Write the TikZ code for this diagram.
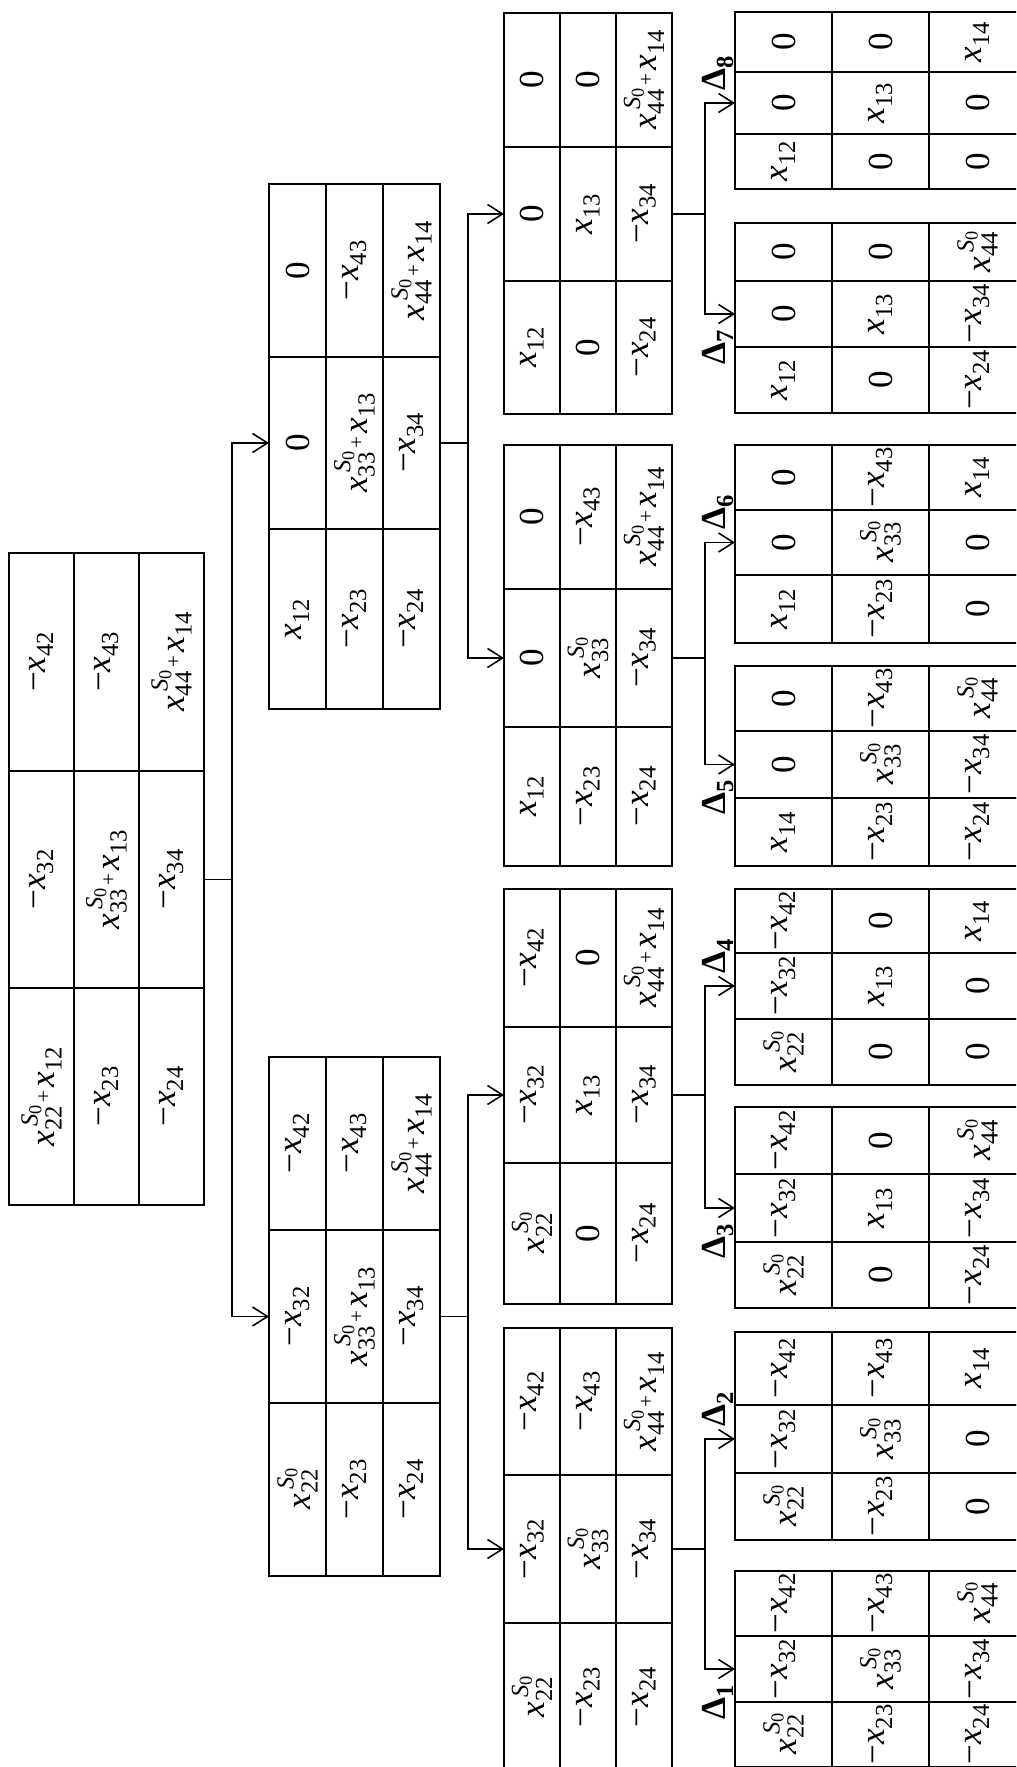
\documentclass[tikz,border=0pt]{standalone}
\usepackage{fontspec}
\setmainfont{Liberation Serif}
\usetikzlibrary{calc, arrows.meta}

\newcommand{\dn}[1]{\raisebox{-0.45ex}{\fontsize{7}{8}\selectfont #1}}
\newcommand{\vx}[1]{\textit{x}\dn{#1}}
\newcommand{\nx}[1]{−\vx{#1}}
\newcommand{\sx}[1]{\textit{x}\rlap{\raisebox{1.05ex}{\fontsize{7}{8}\selectfont\,\textit{S}\raisebox{-0.35ex}{\fontsize{5.2}{6}\selectfont 0}}}\dn{#1}}
\newcommand{\spx}[2]{\sx{#1}\raisebox{0.25ex}{\fontsize{6}{7}\selectfont\,+\,}\vx{#2}}
\newcommand{\dl}[1]{\textbf{Δ}\dn{\textbf{#1}}}

% table: name, X, Y of top left corner, three column widths, row height
\newcommand{\tbl}[7]{\def\tn{#1}\def\tpx{#2}\def\tpy{#3}%
  \def\twa{#4}\def\twb{#5}\def\twc{#6}\def\trh{#7}\def\tprev{}}
\newcommand{\trow}[4]{%
  \ifx\tprev\empty
    \node[cell, anchor=north west, minimum width=\twa, minimum height=\trh] (\tn-#1-1) at (\tpx,\tpy) {#2};
  \else
    \node[cell, anchor=north west, minimum width=\twa, minimum height=\trh] (\tn-#1-1) at (\tprev.south west) {#2};
  \fi
  \node[cell, anchor=west, minimum width=\twb, minimum height=\trh] (\tn-#1-2) at (\tn-#1-1.east) {#3};
  \node[cell, anchor=west, minimum width=\twc, minimum height=\trh] (\tn-#1-3) at (\tn-#1-2.east) {#4};
  \edef\tprev{\tn-#1-1}}

\begin{document}
\begin{tikzpicture}[
  rotate=90, transform shape,
  font=\fontsize{10}{11}\selectfont, line width=0.45pt,
  cell/.style={draw, outer sep=0pt, inner sep=0pt},
  link/.style={-{Straight Barb[length=1.5mm, width=1.9mm]}},
  dlab/.style={font=\fontsize{10}{11}\selectfont, inner sep=0pt},
]
  \useasboundingbox (0,0) rectangle (17.67,10.16);
  \clip (0,0) rectangle (17.67,10.16);

  % Root
  \tbl{m0}{5.62}{10.07}{2.17cm}{2.17cm}{2.18cm}{0.65cm}
  \trow{1}{\spx{22}{12}}{\nx{32}}{\nx{42}}
  \trow{2}{\nx{23}}{\spx{33}{13}}{\nx{43}}
  \trow{3}{\nx{24}}{\nx{34}}{\spx{44}{14}}

  % First split
  \tbl{m1}{1.91}{7.47}{1.73cm}{1.73cm}{1.73cm}{0.57cm}
  \trow{1}{\sx{22}}{\nx{32}}{\nx{42}}
  \trow{2}{\nx{23}}{\spx{33}{13}}{\nx{43}}
  \trow{3}{\nx{24}}{\nx{34}}{\spx{44}{14}}
  \tbl{m2}{10.58}{7.47}{1.80cm}{1.72cm}{1.73cm}{0.57cm}
  \trow{1}{\vx{12}}{0}{0}
  \trow{2}{\nx{23}}{\spx{33}{13}}{\nx{43}}
  \trow{3}{\nx{24}}{\nx{34}}{\spx{44}{14}}

  % Second split
  \tbl{m11}{-0.04}{5.12}{1.48cm}{1.48cm}{1.47cm}{0.56cm}
  \trow{1}{\sx{22}}{\nx{32}}{\nx{42}}
  \trow{2}{\nx{23}}{\sx{33}}{\nx{43}}
  \trow{3}{\nx{24}}{\nx{34}}{\spx{44}{14}}
  \tbl{m12}{4.63}{5.12}{1.41cm}{1.36cm}{1.38cm}{0.56cm}
  \trow{1}{\sx{22}}{\nx{32}}{\nx{42}}
  \trow{2}{0}{\vx{13}}{0}
  \trow{3}{\nx{24}}{\nx{34}}{\spx{44}{14}}
  \tbl{m21}{9.01}{5.12}{1.39cm}{1.38cm}{1.44cm}{0.56cm}
  \trow{1}{\vx{12}}{0}{0}
  \trow{2}{\nx{23}}{\sx{33}}{\nx{43}}
  \trow{3}{\nx{24}}{\nx{34}}{\spx{44}{14}}
  \tbl{m22}{13.53}{5.12}{1.33cm}{1.34cm}{1.34cm}{0.56cm}
  \trow{1}{\vx{12}}{0}{0}
  \trow{2}{0}{\vx{13}}{0}
  \trow{3}{\nx{24}}{\nx{34}}{\spx{44}{14}}

  % Leaves
  \tbl{d1}{0.00}{2.81}{0.65cm}{0.66cm}{0.65cm}{0.97cm}
  \trow{1}{\sx{22}}{\nx{32}}{\nx{42}}
  \trow{2}{\nx{23}}{\sx{33}}{\nx{43}}
  \trow{3}{\nx{24}}{\nx{34}}{\sx{44}}
  \tbl{d2}{2.27}{2.81}{0.67cm}{0.68cm}{0.73cm}{0.97cm}
  \trow{1}{\sx{22}}{\nx{32}}{\nx{42}}
  \trow{2}{\nx{23}}{\sx{33}}{\nx{43}}
  \trow{3}{0}{0}{\vx{14}}
  \tbl{d3}{4.59}{2.81}{0.66cm}{0.68cm}{0.67cm}{0.97cm}
  \trow{1}{\sx{22}}{\nx{32}}{\nx{42}}
  \trow{2}{0}{\vx{13}}{0}
  \trow{3}{\nx{24}}{\nx{34}}{\sx{44}}
  \tbl{d4}{6.82}{2.81}{0.66cm}{0.66cm}{0.64cm}{0.97cm}
  \trow{1}{\sx{22}}{\nx{32}}{\nx{42}}
  \trow{2}{0}{\vx{13}}{0}
  \trow{3}{0}{0}{\vx{14}}
  \tbl{d5}{9.01}{2.81}{0.68cm}{0.67cm}{0.65cm}{0.97cm}
  \trow{1}{\vx{14}}{0}{0}
  \trow{2}{\nx{23}}{\sx{33}}{\nx{43}}
  \trow{3}{\nx{24}}{\nx{34}}{\sx{44}}
  \tbl{d6}{11.24}{2.81}{0.68cm}{0.65cm}{0.65cm}{0.97cm}
  \trow{1}{\vx{12}}{0}{0}
  \trow{2}{\nx{23}}{\sx{33}}{\nx{43}}
  \trow{3}{0}{0}{\vx{14}}
  \tbl{d7}{13.54}{2.81}{0.66cm}{0.66cm}{0.58cm}{0.97cm}
  \trow{1}{\vx{12}}{0}{0}
  \trow{2}{0}{\vx{13}}{0}
  \trow{3}{\nx{24}}{\nx{34}}{\sx{44}}
  \tbl{d8}{15.78}{2.81}{0.55cm}{0.62cm}{0.60cm}{0.97cm}
  \trow{1}{\vx{12}}{0}{0}
  \trow{2}{0}{\vx{13}}{0}
  \trow{3}{0}{0}{\vx{14}}

  % Links
  \foreach \p/\c in {m0/m1, m0/m2, m1/m11, m1/m12, m2/m21, m2/m22}
    \draw[link] (\p-3-2.south) -- ++(0,-0.28) -| (\c-1-2.north);
  \foreach \p/\c in {m11/d1, m11/d2, m12/d3, m12/d4, m21/d5, m21/d6, m22/d7, m22/d8}
    \draw[link] (\p-3-2.south) -- ++(0,-0.33) -| (\c-1-2.north);

  % Labels
  \foreach \k in {1,3,5,7}
    \node[dlab, anchor=east] (l\k) at ($(d\k-1-2.north)+(-0.15,0.17)$) {\dl{\k}};
  \foreach \k in {2,4,6,8}
    \node[dlab, anchor=west] (l\k) at ($(d\k-1-2.north)+(0.12,0.17)$) {\dl{\k}};
\end{tikzpicture}
\end{document}
